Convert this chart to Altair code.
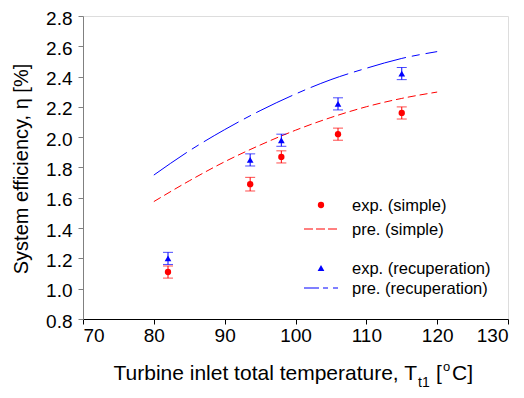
import altair as alt
import pandas as pd

# ---- data ----
exp_temp = [82.0, 93.6, 98.0, 106.0, 115.0]
exp_simple = [1.11, 1.69, 1.87, 2.02, 2.16]
exp_simple_err = [0.04, 0.045, 0.04, 0.04, 0.04]
exp_recup = [1.20, 1.85, 1.98, 2.22, 2.42]
exp_recup_err = [0.04, 0.04, 0.04, 0.04, 0.04]

pre_temp = [80, 85, 90, 95, 100, 105, 110, 115, 120]
pre_simple = [1.575, 1.712, 1.838, 1.948, 2.046, 2.130, 2.201, 2.256, 2.298]
pre_recup = [1.750, 1.910, 2.050, 2.175, 2.285, 2.380, 2.455, 2.520, 2.565]

x_ticks = [70, 80, 90, 100, 110, 120, 130]
y_ticks = [0.8, 1.0, 1.2, 1.4, 1.6, 1.8, 2.0, 2.2, 2.4, 2.6, 2.8]

RED = "#ff0000"
BLUE = "#0000ff"
FONT = "Liberation Sans"

xs = alt.Scale(domain=[70, 130], nice=False, zero=False)
ys = alt.Scale(domain=[0.8, 2.8], nice=False, zero=False)

xax = alt.Axis(values=x_ticks, title=None, labelFontSize=19, labelFont=FONT,
               labelColor="black", tickColor="black", domainColor="black",
               tickSize=5, labelPadding=2, grid=False, labelOverlap=False)
yax = alt.Axis(values=y_ticks, title=None, format=".1f", labelFontSize=19,
               labelFont=FONT, labelColor="black", tickColor="#808080",
               domainColor="#808080", tickSize=5, labelPadding=6, grid=False,
               labelOverlap=False, labelOffset=2)


def X(f):
    return alt.X(f, type="quantitative", scale=xs, axis=xax)


def Y(f):
    return alt.Y(f, type="quantitative", scale=ys, axis=yax)


exp_df = pd.DataFrame({
    "T": exp_temp * 2,
    "eta": exp_simple + exp_recup,
    "lo": [v - e for v, e in zip(exp_simple, exp_simple_err)] + [v - e for v, e in zip(exp_recup, exp_recup_err)],
    "hi": [v + e for v, e in zip(exp_simple, exp_simple_err)] + [v + e for v, e in zip(exp_recup, exp_recup_err)],
    "series": ["simple"] * 5 + ["recup"] * 5,
})
pre_df_s = pd.DataFrame({"T": pre_temp, "eta": pre_simple})
pre_df_r = pd.DataFrame({"T": pre_temp, "eta": pre_recup})

layers = []

# prediction lines
layers.append(alt.Chart(pre_df_s).mark_line(color=RED, strokeWidth=1, strokeDash=[8, 4], interpolate="monotone").encode(
    x=X("T"), y=Y("eta")))
layers.append(alt.Chart(pre_df_r).mark_line(color=BLUE, strokeWidth=1, strokeDash=[40, 6, 8, 6], interpolate="monotone").encode(
    x=X("T"), y=Y("eta")))

for ser, col, shape, size in [("simple", RED, "circle", 40), ("recup", BLUE, "triangle-up", 45)]:
    base = alt.Chart(exp_df).transform_filter(alt.datum.series == ser)
    layers.append(base.mark_rule(color=col, strokeWidth=1).encode(
        x=X("T"), y=Y("lo"), y2="hi:Q"))
    layers.append(base.mark_tick(color=col, thickness=1, size=10, orient="horizontal").encode(
        x=X("T"), y=Y("lo")))
    layers.append(base.mark_tick(color=col, thickness=1, size=10, orient="horizontal").encode(
        x=X("T"), y=Y("hi")))
    layers.append(base.mark_point(color=col, filled=True, opacity=1, shape=shape, size=size).encode(
        x=X("T"), y=Y("eta")))

one = pd.DataFrame({"a": [0]})
OX, OY = 83, 16  # plot origin on the page


def txt(s, px, py, size, align="left", baseline="alphabetic", angle=0):
    return alt.Chart(one).mark_text(text=s, font=FONT, fontSize=size, color="black",
                                    align=align, baseline=baseline, angle=angle).encode(
        x=alt.value(px - OX), y=alt.value(py - OY))


def seg(x1, x2, py, col, dash):
    return alt.Chart(one).mark_rule(color=col, strokeWidth=1, strokeDash=dash).encode(
        x=alt.value(x1 - OX), x2=alt.value(x2 - OX), y=alt.value(py - OY))


# legend
layers.append(alt.Chart(one).mark_point(color=RED, filled=True, opacity=1, shape="circle", size=40).encode(
    x=alt.value(321 - OX), y=alt.value(205 - OY)))
layers.append(txt("exp. (simple)", 352, 206, 16.5, baseline="middle"))
layers.append(seg(304, 338, 229, RED, [9, 3]))
layers.append(txt("pre. (simple)", 352, 230, 16.5, baseline="middle"))
layers.append(alt.Chart(one).mark_point(color=BLUE, filled=True, opacity=1, shape="triangle-up", size=45).encode(
    x=alt.value(321 - OX), y=alt.value(268 - OY)))
layers.append(txt("exp. (recuperation)", 352, 269, 16.5, baseline="middle"))
layers.append(seg(304, 338, 288, BLUE, [15, 4, 5, 5]))
layers.append(txt("pre. (recuperation)", 352, 289, 16.5, baseline="middle"))

# axis titles
layers.append(txt("Turbine inlet total temperature, T", 417, 380, 21, align="right"))
layers.append(txt("t1", 418, 387, 14))
layers.append(txt("[", 436, 380, 21))
layers.append(txt("o", 443, 371, 13))
layers.append(txt("C]", 452, 380, 21))
layers.append(txt("System efficiency, \u03b7 [%]", 22, 169, 20, align="center", baseline="middle", angle=270))

chart = alt.layer(*layers).properties(
    width=425, height=303,
    autosize=alt.AutoSizeParams(type="none"),
    padding={"left": 75, "top": 8, "right": 8, "bottom": 70},
).configure_view(stroke="black", strokeWidth=1).configure(background="white")

chart.save("out.html", embed_options={"renderer": "svg", "actions": False})
